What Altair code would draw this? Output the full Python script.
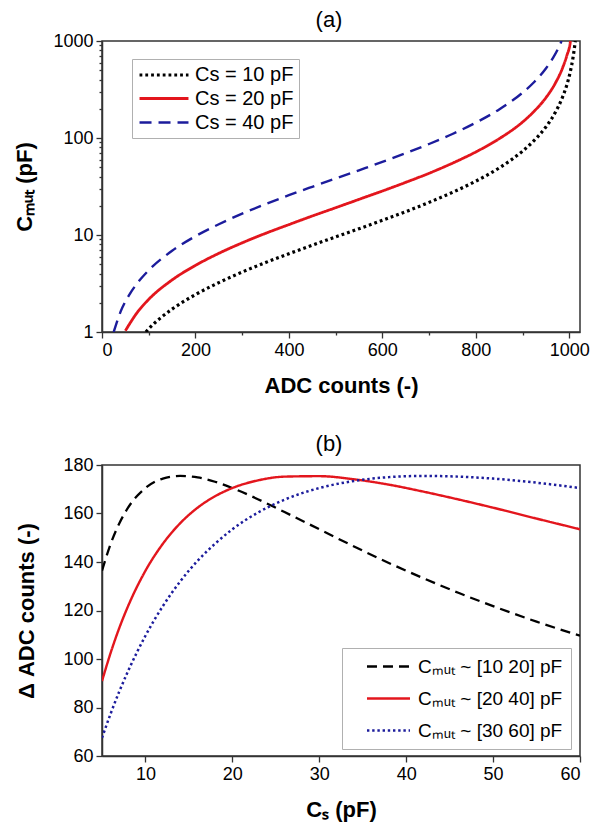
import altair as alt
import pandas as pd

FONT = "Liberation Sans"

# ---------------- Panel (a): C_MUT vs ADC counts ----------------
series_a = ["Cs = 10 pF", "Cs = 20 pF", "Cs = 40 pF"]
colors_a = ["#000000", "#e3161d", "#1c1c9c"]
dashes_a = [[2.8, 3.0], [1, 0], [12, 7]]

adc_cs10 = [94, 100, 125, 150, 200, 250, 300, 350, 400, 450, 500, 550, 600, 650,
            700, 750, 800, 850, 900, 925, 950, 970, 985, 995, 1002, 1008, 1012, 1012.9]
cmut_cs10 = [1.0, 1.08, 1.39, 1.72, 2.43, 3.23, 4.15, 5.2, 6.42, 7.85, 9.56, 11.6, 14.2, 17.4,
             21.7, 27.5, 35.9, 49.1, 73.2, 94.4, 130, 183, 259, 355, 477, 672, 920, 1000]

adc_cs20 = [50, 75, 100, 150, 200, 250, 300, 350, 400, 450, 500, 550, 600, 650,
            700, 750, 800, 850, 900, 925, 950, 970, 985, 995, 1002, 1002.6]
cmut_cs20 = [1.03, 1.58, 2.17, 3.44, 4.86, 6.47, 8.3, 10.4, 12.8, 15.7, 19.1, 23.3, 28.4, 34.9,
             43.3, 55.0, 71.8, 98.3, 146, 189, 260, 366, 518, 711, 954, 1000]

adc_cs40 = [25, 40, 60, 80, 100, 150, 200, 250, 300, 350, 400, 450, 500, 550, 600, 650,
            700, 750, 800, 850, 900, 925, 950, 965, 975, 983.6]
cmut_cs40 = [1.0, 1.63, 2.49, 3.39, 4.33, 6.87, 9.72, 12.9, 16.6, 20.8, 25.7, 31.4, 38.2, 46.5,
             56.7, 69.7, 86.7, 110, 144, 197, 293, 378, 521, 666, 813, 1000]

x_major_a = [0, 200, 400, 600, 800, 1000]
x_minor_a = [100, 300, 500, 700, 900]
y_major_a = [1, 10, 100, 1000]
y_minor_a = [2, 3, 4, 5, 6, 7, 8, 9, 20, 30, 40, 50, 60, 70, 80, 90,
             200, 300, 400, 500, 600, 700, 800, 900]

# ---------------- Panel (b): delta ADC counts vs Cs ----------------
series_b = ["Cₘᵤₜ ~ [10 20] pF", "Cₘᵤₜ ~ [20 40] pF", "Cₘᵤₜ ~ [30 60] pF"]
colors_b = ["#000000", "#e3161d", "#1c1c9c"]
dashes_b = [[10, 6], [1, 0], [2.4, 2.8]]

cs_values = [5, 6, 7, 8, 10, 12, 14, 16, 18, 20, 23, 26, 30, 34, 38, 42, 46, 50, 55, 60]
dadc_10_20 = [136.4, 147.5, 156.0, 162.4, 170.5, 174.4, 175.5, 174.9, 173.1, 170.5,
              165.8, 160.6, 153.5, 146.4, 139.6, 133.3, 127.3, 121.8, 115.4, 109.6]
dadc_20_40 = [90.9, 102.6, 112.9, 121.8, 136.4, 147.5, 156.0, 162.4, 167.1, 170.5,
              173.7, 175.2, 175.4, 174.1, 171.9, 169.0, 165.8, 162.4, 157.9, 153.5]
dadc_30_60 = [67.5, 77.5, 86.7, 95.0, 109.6, 121.8, 132.0, 140.5, 147.5, 153.5,
              160.5, 165.7, 170.5, 173.4, 175.0, 175.5, 175.2, 174.4, 172.7, 170.5]

x_major_b = [10, 20, 30, 40, 50, 60]
y_major_b = [60, 80, 100, 120, 140, 160, 180]

# ---------------- build tables ----------------
rows_a = []
for name, xs, ys in zip(series_a, [adc_cs10, adc_cs20, adc_cs40], [cmut_cs10, cmut_cs20, cmut_cs40]):
    for x, y in zip(xs, ys):
        rows_a.append({"adc": x, "cmut": y, "series": name})
df_a = pd.DataFrame(rows_a)

rows_b = []
for name, ys in zip(series_b, [dadc_10_20, dadc_20_40, dadc_30_60]):
    for x, y in zip(cs_values, ys):
        rows_b.append({"cs": x, "dadc": y, "series": name})
df_b = pd.DataFrame(rows_b)

W, H = 478, 291

# ---------------- chart (a) ----------------
xs_a = alt.Scale(domain=[0, 1023], nice=False, zero=False)
ys_a = alt.Scale(type="log", domain=[1, 1000], nice=False)

legend_a = alt.Legend(title=None, orient="none", legendX=30, legendY=18,
                      strokeColor="#b0b0b0", fillColor="white", padding=5,
                      labelFontSize=20, labelFont=FONT, labelColor="black",
                      symbolType="M-2.72,0H2.72", symbolSize=324, symbolStrokeWidth=2.8,
                      symbolOffset=16, labelOffset=20, rowPadding=3)

lines_a = alt.Chart(df_a).mark_line(interpolate="monotone", clip=True).encode(
    x=alt.X("adc:Q", scale=xs_a,
            axis=alt.Axis(values=x_major_a, title="ADC counts (-)", format="d")),
    y=alt.Y("cmut:Q", scale=ys_a,
            axis=alt.Axis(values=y_major_a, title="Cₘᵤₜ (pF)", format="d")),
    color=alt.Color("series:N", scale=alt.Scale(domain=series_a, range=colors_a), legend=legend_a),
    strokeDash=alt.StrokeDash("series:N", scale=alt.Scale(domain=series_a, range=dashes_a),
                              legend=legend_a),
    strokeWidth=alt.StrokeWidth("series:N", scale=alt.Scale(domain=series_a, range=[3.2, 2.4, 2.5]),
                                legend=None),
)

minor_x_a = alt.Chart(pd.DataFrame({"mx": x_minor_a})).mark_point(opacity=0).encode(
    x=alt.X("mx:Q", scale=xs_a,
            axis=alt.Axis(values=x_minor_a, labels=False, domain=False, tickSize=3,
                          title=None, orient="bottom"))
)
minor_y_a = alt.Chart(pd.DataFrame({"my": y_minor_a})).mark_point(opacity=0).encode(
    y=alt.Y("my:Q", scale=ys_a,
            axis=alt.Axis(values=y_minor_a, labels=False, domain=False, tickSize=3,
                          title=None, orient="left"))
)

chart_a = alt.layer(lines_a, minor_x_a, minor_y_a).resolve_axis(
    x="independent", y="independent"
).properties(
    width=W, height=H,
    title=alt.TitleParams("(a)", fontSize=22, fontWeight="normal", font=FONT,
                          anchor="middle", offset=0, dx=-12, color="black"),
)

# ---------------- chart (b) ----------------
xs_b = alt.Scale(domain=[5, 60], nice=False, zero=False)
ys_b = alt.Scale(domain=[60, 180], nice=False, zero=False)

legend_b = alt.Legend(title=None, orient="none", legendX=240, legendY=183,
                      strokeColor="#b0b0b0", fillColor="white", padding=8,
                      labelFontSize=19, labelFont=FONT, labelColor="black",
                      symbolType="M-2.39,0H2.39", symbolSize=324, symbolStrokeWidth=2.6,
                      symbolOffset=28, labelOffset=19, rowPadding=11)

lines_b = alt.Chart(df_b).mark_line(interpolate="monotone", clip=True).encode(
    x=alt.X("cs:Q", scale=xs_b, axis=alt.Axis(values=x_major_b, title="Cₛ (pF)")),
    y=alt.Y("dadc:Q", scale=ys_b,
            axis=alt.Axis(values=y_major_b, title="Δ ADC counts (-)", titlePadding=24)),
    color=alt.Color("series:N", scale=alt.Scale(domain=series_b, range=colors_b), legend=legend_b),
    strokeDash=alt.StrokeDash("series:N", scale=alt.Scale(domain=series_b, range=dashes_b),
                              legend=legend_b),
    strokeWidth=alt.StrokeWidth("series:N", scale=alt.Scale(domain=series_b, range=[2.3, 2.5, 2.8]),
                                legend=None),
).properties(
    width=W, height=H,
    title=alt.TitleParams("(b)", fontSize=22, fontWeight="normal", font=FONT,
                          anchor="middle", offset=0, dx=-12, color="black"),
)

chart = alt.vconcat(chart_a, lines_b, spacing=35).resolve_scale(
    color="independent", strokeDash="independent", strokeWidth="independent"
).properties(
    padding={"left": 5, "top": 0, "right": 5, "bottom": 2}
).configure_view(
    stroke="#333333", strokeWidth=1.5
).configure_axis(
    grid=False, domainColor="#333333", domainWidth=1.5, tickColor="#333333",
    tickWidth=1.3, tickSize=6, labelFont=FONT, labelFontSize=18, labelColor="black",
    labelPadding=3, titleFont=FONT, titleFontSize=22, titleFontWeight="bold",
    titleColor="black", titlePadding=16
).configure_legend(
    labelFont=FONT
)

chart.save("out.html", embed_options={"renderer": "svg", "actions": False})
